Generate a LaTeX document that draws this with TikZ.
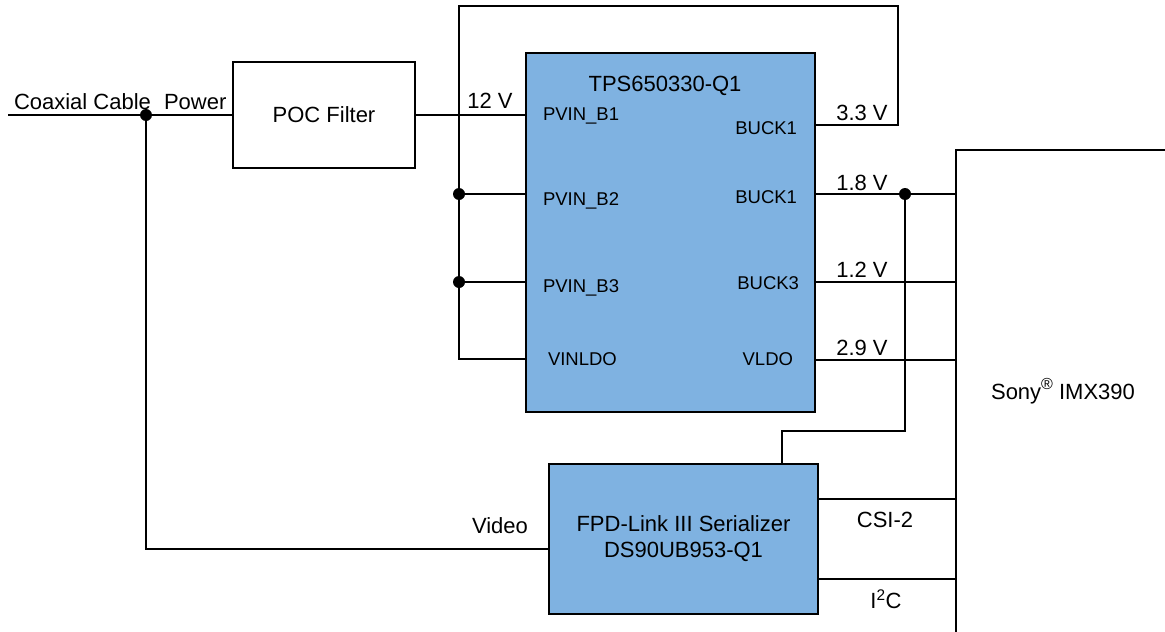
\documentclass[tikz,border=0pt]{standalone}
\usepackage{fontspec}
\setmainfont{Liberation Sans}
\definecolor{chipblue}{RGB}{127,178,225}
\begin{document}
\begin{tikzpicture}[x=1pt,y=-1pt, line width=2pt,
  box/.style={draw, inner sep=0pt, outer sep=0pt, align=center, font=\fontsize{22}{26}\selectfont},
  chip/.style={box, fill=chipblue},
  pinlbl/.style={inner sep=0pt, font=\fontsize{18.5}{22}\selectfont},
  lbl/.style={inner sep=0pt, font=\fontsize{22}{26}\selectfont},
  jdot/.style={circle, fill, inner sep=0pt, minimum size=12pt}]
\useasboundingbox (0,0) rectangle (1165,632);

% blocks
\node[box, minimum width=182pt, minimum height=106pt] (poc) at (324,115) {POC Filter};
\node[chip, minimum width=289pt, minimum height=359pt] (tps) at (670.5,232.5) {};
\node[chip, minimum width=269pt, minimum height=150pt] (fpd) at (683.5,539) {FPD-Link III Serializer\\DS90UB953-Q1};
\node[box, minimum width=219pt, minimum height=495pt] (sony) at (1065.5,397.5) {};

% block texts
\node[lbl, anchor=base] (tpst) at (665,91) {TPS650330-Q1};
\node[lbl, anchor=base] (sonyt) at (1063,399) {Sony\raisebox{0.45em}{\fontsize{16}{18}\selectfont ®} IMX390};

% pin labels
\node[pinlbl, anchor=base west] (p1) at (542,120) {PVIN\_B1};
\node[pinlbl, anchor=base west] (p2) at (542,205) {PVIN\_B2};
\node[pinlbl, anchor=base west] (p3) at (542,292) {PVIN\_B3};
\node[pinlbl, anchor=base west] (p4) at (547,365) {VINLDO};
\node[pinlbl, anchor=base east] (o1) at (798,134) {BUCK1};
\node[pinlbl, anchor=base east] (o2) at (798,203) {BUCK1};
\node[pinlbl, anchor=base east] (o3) at (800,289) {BUCK3};
\node[pinlbl, anchor=base east] (o4) at (794,365) {VLDO};

% junctions
\node[jdot] (j1) at (146,115) {};
\node[jdot] (j2) at (459,194) {};
\node[jdot] (j3) at (459,282) {};
\node[jdot] (j4) at (905,194) {};
\coordinate (cin) at (8,115);
\coordinate (loopR) at (898,6);
\coordinate (busb) at (459,359);
\coordinate (bend) at (905,431);

% connectors
\draw (cin) -- (j1.center) -- (poc.west);
\draw (poc.east) -- (tps.west |- poc.east);
\draw (tps.east |- 0,125) -| (loopR) -| (busb) -- (tps.west |- busb);
\draw (j2.center) -- (tps.west |- j2);
\draw (j3.center) -- (tps.west |- j3);
\draw (tps.east |- j4) -- (sony.west |- j4);
\draw (tps.east |- 0,282) -- (sony.west |- 0,282);
\draw (tps.east |- 0,360) -- (sony.west |- 0,360);
\draw (j4.center) -- (bend) -| (fpd.north -| 782,0);
\draw (fpd.east |- 0,499) -- (sony.west |- 0,499);
\draw (fpd.east |- 0,579) -- (sony.west |- 0,579);
\draw (j1.center) |- (fpd.west |- 0,549);

% connector labels
\node[lbl, anchor=base west] (lcoax) at (13,109) {Coaxial Cable};
\node[lbl, anchor=base west] (lpow) at (163,109) {Power};
\node[lbl, anchor=base] (l12) at (490,108) {12 V};
\node[lbl, anchor=base] (l33) at (862,120) {3.3 V};
\node[lbl, anchor=base] (l18) at (862,190) {1.8 V};
\node[lbl, anchor=base] (l12b) at (862,277) {1.2 V};
\node[lbl, anchor=base] (l29) at (862,355) {2.9 V};
\node[lbl, anchor=base] (lvid) at (500,533) {Video};
\node[lbl, anchor=base] (lcsi) at (885,527) {CSI-2};
\node[lbl, anchor=base] (li2c) at (886,608) {I\textsuperscript{2}C};
\end{tikzpicture}
\end{document}
